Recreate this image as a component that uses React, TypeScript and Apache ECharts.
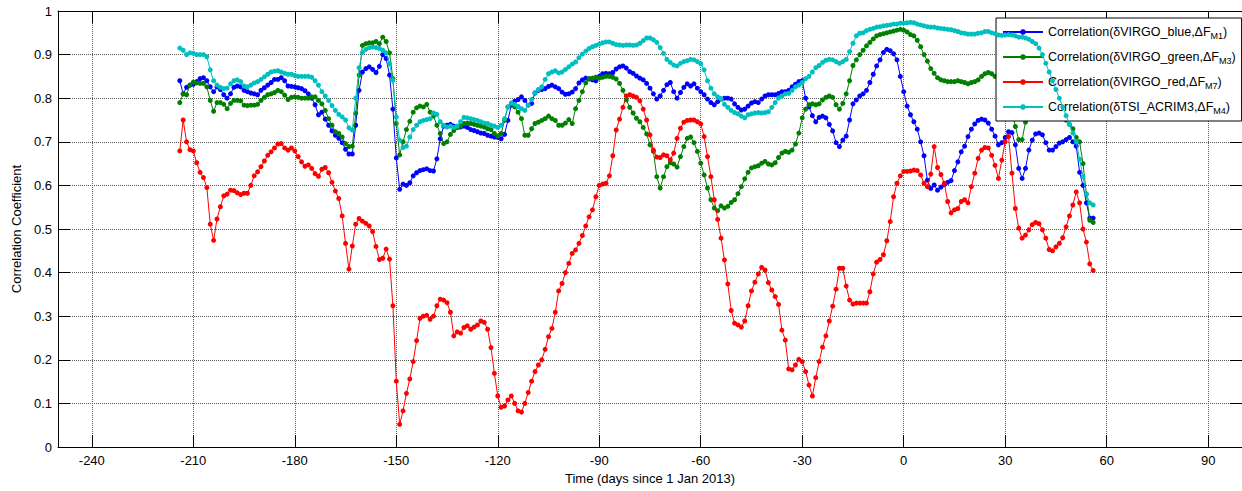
import React, { useEffect, useRef } from 'react';
import * as echarts from 'echarts';

// First day of all four series (days since 1 Jan 2013); one value per day.
const START_DAY = -214;

const blueValues = [
  0.84, 0.81, 0.825, 0.83, 0.832, 0.838, 0.845, 0.847, 0.84, 0.826,
  0.815, 0.826, 0.82, 0.808, 0.80, 0.81, 0.825, 0.828, 0.826, 0.818,
  0.815, 0.812, 0.81, 0.808, 0.818, 0.824, 0.83, 0.836, 0.843, 0.843,
  0.847, 0.84, 0.828, 0.827, 0.826, 0.824, 0.822, 0.817, 0.81, 0.80,
  0.785, 0.762, 0.768, 0.752, 0.738, 0.725, 0.715, 0.708, 0.698, 0.683,
  0.672, 0.672, 0.738, 0.818, 0.86, 0.868, 0.872, 0.866, 0.859, 0.873,
  0.90, 0.891, 0.853, 0.775, 0.663, 0.591, 0.603, 0.60, 0.606, 0.622,
  0.629, 0.634, 0.636, 0.638, 0.634, 0.633, 0.661, 0.707, 0.736, 0.738,
  0.74, 0.736, 0.733, 0.734, 0.736, 0.733, 0.728, 0.726, 0.723, 0.72,
  0.719, 0.715, 0.713, 0.711, 0.71, 0.707, 0.717, 0.749, 0.784, 0.793,
  0.797, 0.803, 0.795, 0.784, 0.788, 0.812, 0.818, 0.82, 0.822, 0.827,
  0.83, 0.826, 0.822, 0.814, 0.809, 0.81, 0.814, 0.822, 0.835, 0.842,
  0.846, 0.844, 0.842, 0.84, 0.85, 0.856, 0.857, 0.856, 0.859, 0.867,
  0.872, 0.874, 0.869, 0.861, 0.857, 0.851, 0.846, 0.842, 0.834, 0.823,
  0.81, 0.798, 0.805, 0.818, 0.831, 0.836, 0.815, 0.80, 0.813, 0.825,
  0.833, 0.828, 0.833, 0.823, 0.815, 0.808, 0.798, 0.79, 0.785, 0.792,
  0.798, 0.80, 0.80, 0.798, 0.787, 0.779, 0.773, 0.775, 0.782, 0.789,
  0.792, 0.79, 0.798, 0.805, 0.808, 0.808, 0.808, 0.811, 0.815, 0.815,
  0.818, 0.826, 0.832, 0.838, 0.84, 0.80, 0.78, 0.76, 0.746, 0.756,
  0.759, 0.755, 0.74, 0.725, 0.698, 0.689, 0.704, 0.713, 0.75, 0.787,
  0.796, 0.805, 0.81, 0.818, 0.836, 0.855, 0.874, 0.888, 0.905, 0.912,
  0.909, 0.902, 0.888, 0.85, 0.815, 0.782, 0.762, 0.746, 0.729, 0.70,
  0.668, 0.612, 0.593, 0.601, 0.589, 0.596, 0.602, 0.607, 0.611, 0.634,
  0.654, 0.677, 0.69, 0.712, 0.729, 0.741, 0.749, 0.752, 0.75, 0.743,
  0.729, 0.713, 0.693, 0.698, 0.71, 0.723, 0.721, 0.693, 0.639, 0.616,
  0.639, 0.681, 0.704, 0.718, 0.72, 0.716, 0.698, 0.681, 0.681, 0.689,
  0.697, 0.70, 0.705, 0.71, 0.70, 0.69, 0.63, 0.60, 0.56, 0.525, 0.525,
];

const greenValues = [
  0.79, 0.81, 0.808, 0.83, 0.837, 0.835, 0.834, 0.834, 0.826, 0.795,
  0.77, 0.79, 0.79, 0.786, 0.776, 0.788, 0.795, 0.795, 0.794, 0.784,
  0.783, 0.784, 0.784, 0.786, 0.795, 0.802, 0.808, 0.81, 0.813, 0.818,
  0.815, 0.807, 0.797, 0.802, 0.803, 0.802, 0.80, 0.80, 0.80, 0.803,
  0.803, 0.795, 0.787, 0.772, 0.753, 0.738, 0.723, 0.719, 0.711, 0.696,
  0.689, 0.69, 0.765, 0.853, 0.921, 0.925, 0.927, 0.927, 0.93, 0.925,
  0.94, 0.93, 0.904, 0.845, 0.742, 0.67, 0.70, 0.728, 0.747, 0.768,
  0.778, 0.782, 0.78, 0.786, 0.768, 0.759, 0.738, 0.719, 0.696, 0.70,
  0.717, 0.726, 0.733, 0.736, 0.742, 0.743, 0.742, 0.74, 0.738, 0.736,
  0.734, 0.73, 0.728, 0.719, 0.713, 0.719, 0.749, 0.78, 0.788, 0.78,
  0.768, 0.753, 0.715, 0.715, 0.73, 0.742, 0.745, 0.749, 0.753, 0.759,
  0.753, 0.749, 0.738, 0.738, 0.743, 0.751, 0.742, 0.776, 0.795, 0.815,
  0.835, 0.845, 0.846, 0.848, 0.846, 0.848, 0.85, 0.85, 0.848, 0.844,
  0.834, 0.818, 0.796, 0.779, 0.766, 0.754, 0.746, 0.733, 0.718, 0.693,
  0.678, 0.62, 0.594, 0.62, 0.643, 0.652, 0.649, 0.642, 0.666, 0.689,
  0.708, 0.711, 0.698, 0.678, 0.651, 0.624, 0.594, 0.567, 0.548, 0.542,
  0.553, 0.548, 0.552, 0.561, 0.567, 0.581, 0.597, 0.615, 0.63, 0.64,
  0.643, 0.645, 0.651, 0.655, 0.649, 0.647, 0.652, 0.664, 0.674, 0.678,
  0.676, 0.681, 0.695, 0.72, 0.755, 0.775, 0.785, 0.787, 0.785, 0.787,
  0.796, 0.802, 0.805, 0.802, 0.785, 0.775, 0.788, 0.81, 0.84, 0.875,
  0.888, 0.90, 0.91, 0.92, 0.928, 0.936, 0.943, 0.946, 0.948, 0.95,
  0.952, 0.954, 0.956, 0.958, 0.956, 0.952, 0.946, 0.943, 0.933, 0.918,
  0.90, 0.885, 0.868, 0.857, 0.847, 0.842, 0.84, 0.838, 0.838, 0.838,
  0.84, 0.838, 0.836, 0.833, 0.836, 0.838, 0.842, 0.85, 0.856, 0.859,
  0.856, 0.85, 0.845, 0.84, 0.82, 0.80, 0.77, 0.735, 0.705, 0.705,
  0.745, 0.79, 0.80, 0.80, 0.795, 0.79, 0.785, 0.79, 0.785, 0.78,
  0.77, 0.76, 0.75, 0.74, 0.73, 0.71, 0.70, 0.65, 0.58, 0.52, 0.515,
];

const redValues = [
  0.679, 0.75, 0.70, 0.682, 0.679, 0.652, 0.63, 0.618, 0.595, 0.511,
  0.474, 0.523, 0.551, 0.576, 0.58, 0.589, 0.588, 0.583, 0.579, 0.582,
  0.582, 0.60, 0.622, 0.631, 0.643, 0.656, 0.669, 0.677, 0.686, 0.695,
  0.696, 0.686, 0.681, 0.686, 0.679, 0.666, 0.654, 0.644, 0.647, 0.639,
  0.627, 0.621, 0.637, 0.641, 0.629, 0.607, 0.587, 0.57, 0.53, 0.467,
  0.408, 0.461, 0.511, 0.524, 0.518, 0.513, 0.507, 0.494, 0.46, 0.43,
  0.433, 0.454, 0.431, 0.324, 0.151, 0.052, 0.083, 0.123, 0.156, 0.196,
  0.244, 0.295, 0.30, 0.302, 0.293, 0.30, 0.324, 0.339, 0.337, 0.331,
  0.309, 0.255, 0.264, 0.261, 0.274, 0.278, 0.27, 0.275, 0.28, 0.289,
  0.286, 0.27, 0.228, 0.169, 0.117, 0.091, 0.094, 0.108, 0.117, 0.10,
  0.083, 0.08, 0.10, 0.125, 0.151, 0.173, 0.188, 0.20, 0.224, 0.253,
  0.272, 0.309, 0.358, 0.375, 0.40, 0.421, 0.444, 0.452, 0.467, 0.485,
  0.507, 0.528, 0.544, 0.574, 0.60, 0.603, 0.605, 0.622, 0.668, 0.727,
  0.752, 0.779, 0.805, 0.808, 0.805, 0.802, 0.794, 0.775, 0.75, 0.716,
  0.681, 0.665, 0.664, 0.67, 0.668, 0.659, 0.674, 0.708, 0.731, 0.745,
  0.749, 0.75, 0.75, 0.746, 0.741, 0.712, 0.666, 0.62, 0.567, 0.522,
  0.479, 0.429, 0.374, 0.313, 0.284, 0.28, 0.275, 0.289, 0.324, 0.358,
  0.378, 0.397, 0.412, 0.406, 0.377, 0.36, 0.345, 0.327, 0.268, 0.245,
  0.179, 0.177, 0.188, 0.201, 0.196, 0.173, 0.142, 0.117, 0.159, 0.196,
  0.229, 0.255, 0.289, 0.323, 0.362, 0.41, 0.41, 0.369, 0.337, 0.328,
  0.33, 0.33, 0.33, 0.33, 0.356, 0.397, 0.424, 0.43, 0.441, 0.473,
  0.517, 0.574, 0.605, 0.622, 0.632, 0.632, 0.633, 0.635, 0.634, 0.624,
  0.605, 0.597, 0.626, 0.689, 0.641, 0.625, 0.605, 0.563, 0.537, 0.544,
  0.547, 0.563, 0.567, 0.56, 0.597, 0.628, 0.662, 0.681, 0.687, 0.686,
  0.669, 0.646, 0.616, 0.658, 0.70, 0.712, 0.628, 0.547, 0.502, 0.479,
  0.486, 0.498, 0.51, 0.515, 0.512, 0.498, 0.479, 0.453, 0.45, 0.459,
  0.467, 0.48, 0.505, 0.53, 0.555, 0.585, 0.56, 0.50, 0.47, 0.42, 0.405,
];

const cyanValues = [
  0.915, 0.91, 0.90, 0.904, 0.903, 0.90, 0.90, 0.90, 0.895, 0.865,
  0.84, 0.83, 0.825, 0.822, 0.823, 0.833, 0.84, 0.842, 0.838, 0.828,
  0.826, 0.83, 0.835, 0.838, 0.843, 0.849, 0.855, 0.86, 0.862, 0.863,
  0.86, 0.857, 0.855, 0.855, 0.852, 0.85, 0.85, 0.85, 0.85, 0.848,
  0.84, 0.83, 0.815, 0.805, 0.795, 0.783, 0.772, 0.763, 0.757, 0.75,
  0.732, 0.727, 0.80, 0.87, 0.905, 0.912, 0.916, 0.917, 0.916, 0.914,
  0.91, 0.904, 0.879, 0.841, 0.757, 0.704, 0.687, 0.69, 0.711, 0.728,
  0.738, 0.746, 0.749, 0.751, 0.753, 0.766, 0.763, 0.746, 0.738, 0.734,
  0.736, 0.733, 0.736, 0.746, 0.756, 0.755, 0.753, 0.751, 0.749, 0.746,
  0.743, 0.742, 0.738, 0.736, 0.733, 0.738, 0.753, 0.78, 0.789, 0.786,
  0.781, 0.776, 0.772, 0.784, 0.797, 0.812, 0.82, 0.826, 0.843, 0.856,
  0.86, 0.863, 0.858, 0.86, 0.866, 0.872, 0.878, 0.883, 0.893, 0.901,
  0.908, 0.914, 0.918, 0.921, 0.924, 0.927, 0.929, 0.929, 0.926, 0.923,
  0.922, 0.921, 0.922, 0.922, 0.921, 0.922, 0.926, 0.932, 0.938, 0.938,
  0.934, 0.928, 0.916, 0.903, 0.889, 0.882, 0.876, 0.874, 0.88, 0.884,
  0.886, 0.889, 0.888, 0.884, 0.879, 0.865, 0.84, 0.823, 0.81, 0.803,
  0.799, 0.786, 0.779, 0.772, 0.767, 0.764, 0.759, 0.755, 0.762, 0.764,
  0.766, 0.767, 0.766, 0.767, 0.769, 0.779, 0.79, 0.80, 0.805, 0.81,
  0.811, 0.818, 0.826, 0.83, 0.836, 0.845, 0.85, 0.86, 0.87, 0.875,
  0.882, 0.887, 0.889, 0.888, 0.884, 0.88, 0.884, 0.889, 0.907, 0.926,
  0.943, 0.949, 0.95, 0.955, 0.958, 0.96, 0.963, 0.964, 0.966, 0.967,
  0.968, 0.97, 0.97, 0.972, 0.972, 0.973, 0.974, 0.973, 0.97, 0.968,
  0.966, 0.964, 0.963, 0.963, 0.961, 0.96, 0.959, 0.958, 0.957, 0.955,
  0.953, 0.95, 0.949, 0.947, 0.947, 0.947, 0.949, 0.95, 0.953, 0.953,
  0.95, 0.948, 0.945, 0.944, 0.945, 0.946, 0.945, 0.943, 0.94, 0.94,
  0.938, 0.935, 0.93, 0.925, 0.915, 0.90, 0.88, 0.86, 0.84, 0.82,
  0.80, 0.78, 0.76, 0.74, 0.72, 0.70, 0.66, 0.62, 0.58, 0.56, 0.555,
];

const xTickValues = [-240, -210, -180, -150, -120, -90, -60, -30, 0, 30, 60, 90];

const seriesNames = [
  'Correlation(δVIRGO_blue,ΔF_M1)',
  'Correlation(δVIRGO_green,ΔF_M3)',
  'Correlation(δVIRGO_red,ΔF_M7)',
  'Correlation(δTSI_ACRIM3,ΔF_M4)',
];
const legendRich: Record<string, string> = {
  [seriesNames[0]]: '{t|Correlation(δVIRGO_blue,ΔF}{sub|M1}{t|)}',
  [seriesNames[1]]: '{t|Correlation(δVIRGO_green,ΔF}{sub|M3}{t|)}',
  [seriesNames[2]]: '{t|Correlation(δVIRGO_red,ΔF}{sub|M7}{t|)}',
  [seriesNames[3]]: '{t|Correlation(δTSI_ACRIM3,ΔF}{sub|M4}{t|)}',
};
const seriesColors = ['#0000ff', '#008000', '#ff0000', '#00bfbf'];

const FONT = "'Liberation Sans', Arial, sans-serif";

export default function App() {
  const ref = useRef<HTMLDivElement>(null);

  useEffect(() => {
    if (!ref.current) return;
    const chart = echarts.init(ref.current, null, { renderer: 'svg' });
    const allValues = [blueValues, greenValues, redValues, cyanValues];
    const toData = (vals: number[]) => vals.map((v, i) => [START_DAY + i, v]);

    const gridLine = { show: true, lineStyle: { color: '#5a5a5a', width: 1, type: [1, 1] as any } };
    const tickStyle = { show: true, inside: true, length: 12, lineStyle: { color: '#000', width: 1 } };

    chart.setOption({
      animation: false,
      backgroundColor: '#fff',
      textStyle: { fontFamily: FONT },
      grid: { left: 58, top: 11, right: -4, bottom: 44, containLabel: false },
      xAxis: [
        {
          type: 'value',
          min: -250,
          max: 100,
          position: 'bottom',
          name: 'Time (days since 1 Jan 2013)',
          nameLocation: 'middle',
          nameGap: 25,
          nameTextStyle: { fontSize: 13, color: '#000', fontFamily: FONT },
          axisLine: { show: true, onZero: false, lineStyle: { color: '#000', width: 1 } },
          axisTick: { ...tickStyle, customValues: xTickValues },
          axisLabel: { customValues: xTickValues, fontSize: 13, color: '#000', margin: 7, fontFamily: FONT },
          splitLine: gridLine,
        },
        {
          type: 'value',
          min: -250,
          max: 100,
          position: 'top',
          axisLine: { show: true, onZero: false, lineStyle: { color: '#000', width: 1 } },
          axisTick: { ...tickStyle, customValues: xTickValues },
          axisLabel: { show: false },
          splitLine: { show: false },
        },
      ],
      yAxis: [
        {
          type: 'value',
          min: 0,
          max: 1,
          interval: 0.1,
          position: 'left',
          name: 'Correlation Coefficient',
          nameLocation: 'middle',
          nameGap: 25,
          nameTextStyle: { fontSize: 13, color: '#000', fontFamily: FONT },
          axisLine: { show: true, onZero: false, lineStyle: { color: '#000', width: 1 } },
          axisTick: tickStyle,
          axisLabel: { fontSize: 13, color: '#000', margin: 6, fontFamily: FONT },
          splitLine: gridLine,
        },
        {
          type: 'value',
          min: 0,
          max: 1,
          interval: 0.1,
          position: 'right',
          axisLine: { show: true, onZero: false, lineStyle: { color: '#000', width: 1 } },
          axisTick: tickStyle,
          axisLabel: { show: false },
          splitLine: { show: false },
        },
      ],
      legend: {
        show: true,
        orient: 'vertical',
        left: 996,
        top: 18,
        padding: [6, 6, 6, 6],
        itemGap: 9,
        itemWidth: 40,
        itemHeight: 7,
        selectedMode: false,
        backgroundColor: '#fff',
        borderColor: '#000',
        borderWidth: 1,
        data: seriesNames,
        formatter: (name: string) => legendRich[name],
        textStyle: {
          fontFamily: FONT,
          fontSize: 12,
          color: '#000',
          rich: {
            t: { fontFamily: FONT, fontSize: 12.5, lineHeight: 15, color: '#000' },
            sub: { fontFamily: FONT, fontSize: 9, lineHeight: 9, padding: [7, 0, 0, 0], color: '#000' },
          },
        },
      },
      series: allValues.map((vals, k) => ({
        type: 'line',
        name: seriesNames[k],
        data: toData(vals),
        xAxisIndex: 0,
        yAxisIndex: 0,
        symbol: 'circle',
        symbolSize: 5,
        showSymbol: true,
        showAllSymbol: true,
        lineStyle: { width: 1, color: seriesColors[k] },
        itemStyle: { color: seriesColors[k] },
        emphasis: { disabled: true },
        silent: true,
        z: 2 + k,
      })),
    });

    return () => chart.dispose();
  }, []);

  return (
    <div
      ref={ref}
      style={{ position: 'absolute', left: 0, top: 0, width: 1242, height: 491, background: '#fff' }}
    />
  );
}
